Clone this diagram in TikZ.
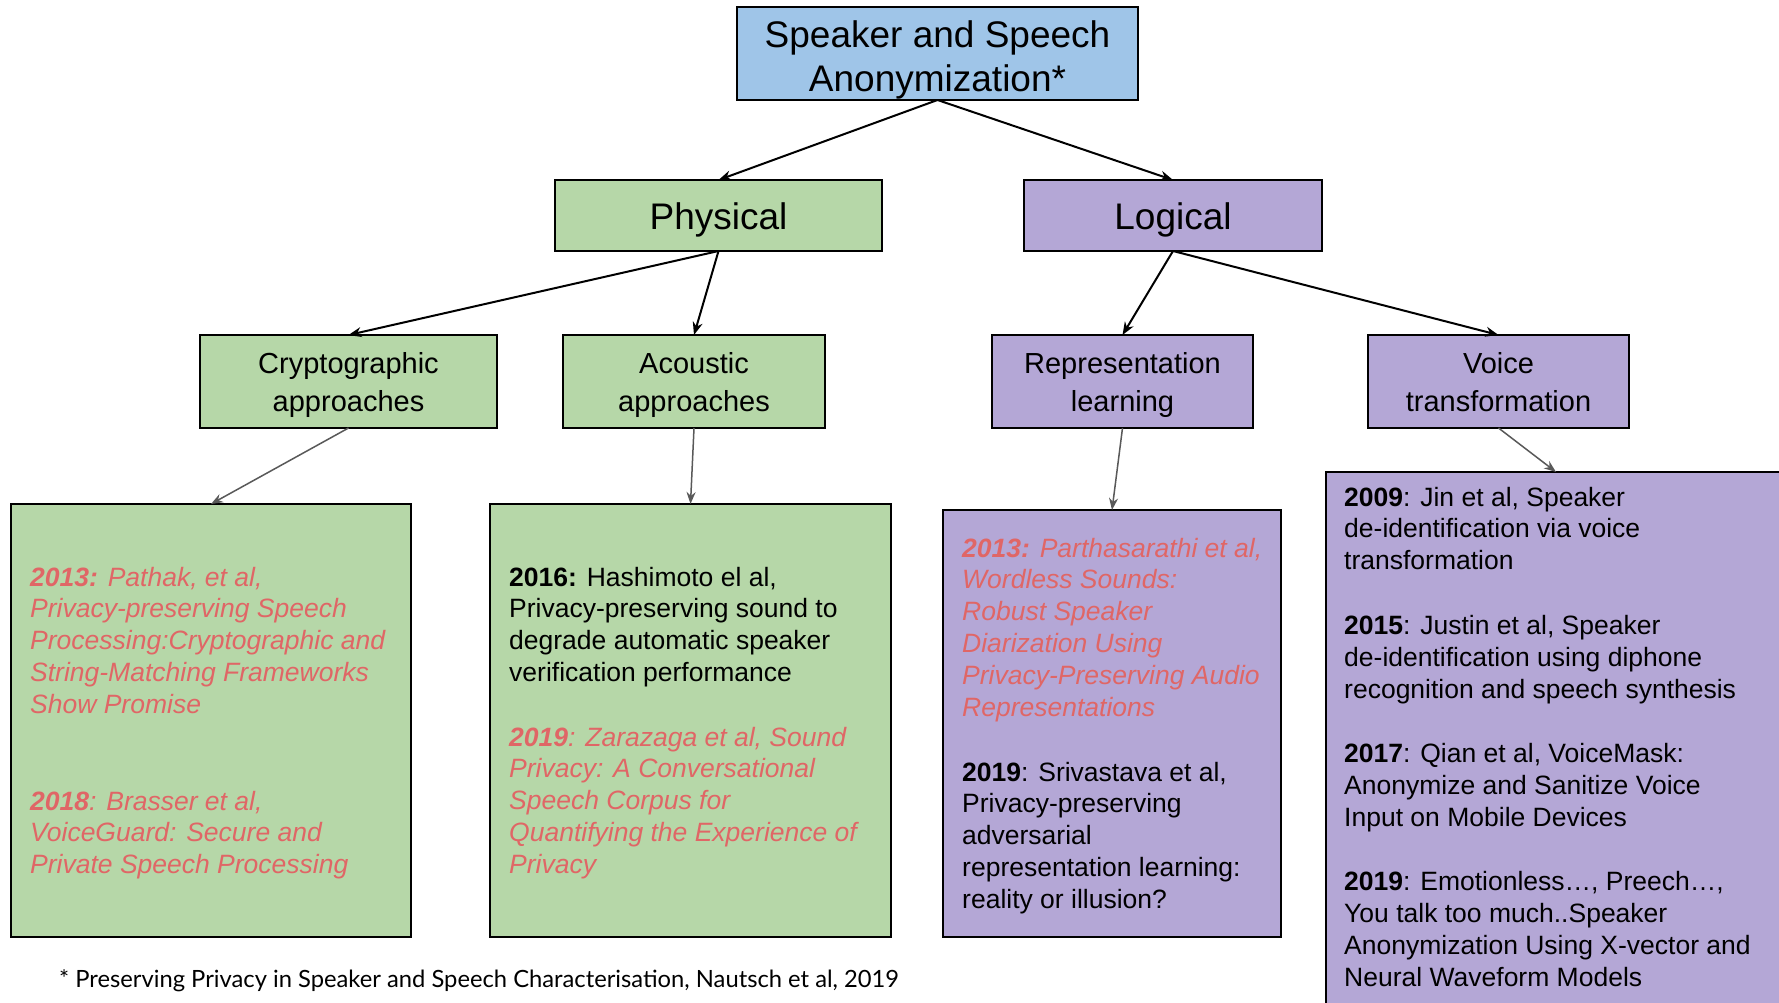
\documentclass[tikz,border=0pt]{standalone}
\usepackage{fontspec}
\setmainfont{Liberation Sans}
\newfontfamily\latofont{Lato}
\usetikzlibrary{arrows.meta}
\definecolor{boxblue}{HTML}{9FC5E8}
\definecolor{boxgreen}{HTML}{B6D7A8}
\definecolor{boxpurple}{HTML}{B4A7D6}
\definecolor{reftext}{HTML}{E06666}
\definecolor{arrowgray}{HTML}{595959}
\begin{document}
\begin{tikzpicture}[x=1pt,y=-1pt,
  boxbase/.style={draw=black, line width=2pt, inner sep=0pt, outer sep=0pt},
  titlebox/.style={boxbase, fill=boxblue, align=center, text height=83.4pt, text depth=7.8pt, font=\fontsize{37}{44}\selectfont},
  lvltwo/.style={boxbase, align=center, text height=36pt, text depth=7.8pt, font=\fontsize{37}{44}\selectfont},
  lvlthree/.style={boxbase, align=center, text height=65.6pt, text depth=6.1pt, font=\fontsize{29}{37.5}\selectfont},
  entry/.style={anchor=base west, align=left, inner sep=0pt, font=\fontsize{26.5}{31.8}\selectfont},
  entryit/.style={anchor=base west, align=left, inner sep=0pt, text=reftext, font=\fontsize{26.5}{31.8}\selectfont\itshape},
  entryfour/.style={anchor=base west, align=left, inner sep=0pt, font=\fontsize{26.5}{31.9}\selectfont},
  topedge/.style={line width=2pt, draw=black, -{Stealth[length=13pt,width=10pt]}},
  lowedge/.style={line width=1.5pt, draw=arrowgray, -{Stealth[length=12pt,width=9pt]}}
]
\useasboundingbox (0,0) rectangle (1779,1002);
\fill[white] (0,0) rectangle (1779,1002);

% tree nodes
\node[titlebox, minimum width=401pt, minimum height=93pt] (root) at (937.5,53.5) {Speaker and Speech\\Anonymization*};
\node[lvltwo, fill=boxgreen, minimum width=327pt, minimum height=71pt] (phys) at (718.5,215.5) {Physical};
\node[lvltwo, fill=boxpurple, minimum width=298pt, minimum height=71pt] (logi) at (1173,215.5) {Logical};
\node[lvlthree, fill=boxgreen, minimum width=297pt, minimum height=93pt] (crypt) at (348.5,381.5) {Cryptographic\\approaches};
\node[lvlthree, fill=boxgreen, minimum width=262pt, minimum height=93pt] (acou) at (694,381.5) {Acoustic\\approaches};
\node[lvlthree, fill=boxpurple, minimum width=261pt, minimum height=93pt] (repr) at (1122.5,381.5) {Representation\\learning};
\node[lvlthree, fill=boxpurple, minimum width=261pt, minimum height=93pt] (voice) at (1498.5,381.5) {Voice\\transformation};

% paper boxes
\node[boxbase, fill=boxgreen, minimum width=400pt, minimum height=433pt] (box1) at (211,720.5) {};
\node[boxbase, fill=boxgreen, minimum width=401pt, minimum height=433pt] (box2) at (690.5,720.5) {};
\node[boxbase, fill=boxpurple, minimum width=338pt, minimum height=427pt] (box3) at (1112,723.5) {};
\node[boxbase, fill=boxpurple, minimum width=460pt, minimum height=600pt, anchor=north west] (box4) at (1326,472) {};

% entries box 1 (anchor = baseline of last line)
\node[entryit] (e1a) at (30,713.2) {\textbf{2013:} Pathak, et al,\\Privacy-preserving Speech\\Processing:Cryptographic and\\String-Matching Frameworks\\Show Promise};
\node[entryit] (e1b) at (30,873.6) {\textbf{2018}: Brasser et al,\\VoiceGuard: Secure and\\Private Speech Processing};

% entries box 2
\node[entry] (e2a) at (509,681.4) {\textbf{2016:} Hashimoto el al,\\Privacy-preserving sound to\\degrade automatic speaker\\verification performance};
\node[entryit] (e2b) at (509,873.2) {\textbf{2019}: Zarazaga et al, Sound\\Privacy: A Conversational\\Speech Corpus for\\Quantifying the Experience of\\Privacy};

% entries box 3
\node[entryit] (e3a) at (962,716) {\textbf{2013:} Parthasarathi et al,\\Wordless Sounds:\\Robust Speaker\\Diarization Using\\Privacy-Preserving Audio\\Representations};
\node[entry] (e3b) at (962,908.2) {\textbf{2019}: Srivastava et al,\\Privacy-preserving\\adversarial\\representation learning:\\reality or illusion?};

% entries box 4
\node[entryfour] (e4a) at (1344,569.8) {\textbf{2009}: Jin et al, Speaker\\de-identification via voice\\transformation};
\node[entryfour] (e4b) at (1344,698) {\textbf{2015}: Justin et al, Speaker\\de-identification using diphone\\recognition and speech synthesis};
\node[entryfour] (e4c) at (1344,826.2) {\textbf{2017}: Qian et al, VoiceMask:\\Anonymize and Sanitize Voice\\Input on Mobile Devices};
\node[entryfour] (e4d) at (1344,986.3) {\textbf{2019}: Emotionless\ldots, Preech\ldots,\\You talk too much..Speaker\\Anonymization Using X-vector and\\Neural Waveform Models};

% footnote
\node[anchor=base west, inner sep=0pt, font=\latofont\fontsize{23.75}{28}\selectfont] (foot) at (59,987) {* Preserving Privacy in Speaker and Speech Characterisation, Nautsch et al, 2019};

% connectors
\draw[topedge] (root.south) -- (phys.north);
\draw[topedge] (root.south) -- (logi.north);
\draw[topedge] (phys.south) -- (crypt.north);
\draw[topedge] (phys.south) -- (acou.north);
\draw[topedge] (logi.south) -- (repr.north);
\draw[topedge] (logi.south) -- (voice.north);
\draw[lowedge] (crypt.south) -- (box1.north);
\draw[lowedge] (acou.south) -- (box2.north);
\draw[lowedge] (repr.south) -- (box3.north);
\draw[lowedge] (voice.south) -- (box4.north);
\end{tikzpicture}
\end{document}
